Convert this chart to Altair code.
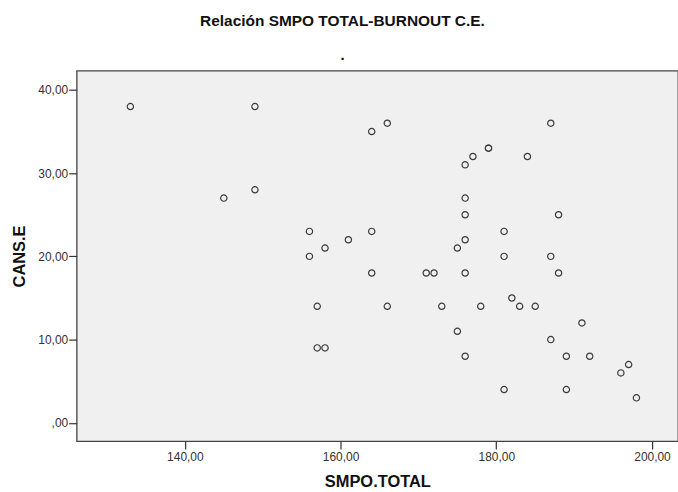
import altair as alt
import pandas as pd

smpo_total = [133, 149, 145, 149, 156, 156, 158, 161, 157, 157, 158,
              164, 166, 164, 164, 166, 171, 172, 173, 175, 175,
              176, 177, 176, 176, 176, 176, 176, 179, 179, 178,
              181, 181, 181, 182, 183, 184, 185, 187, 187, 187,
              188, 188, 189, 189, 191, 192, 196, 197, 198]
cans_e = [38, 38, 27, 28, 23, 20, 21, 22, 14, 9, 9,
          35, 36, 23, 18, 14, 18, 18, 14, 21, 11,
          31, 32, 27, 25, 22, 18, 8, 33, 33, 14,
          23, 20, 4, 15, 14, 32, 14, 36, 20, 10,
          25, 18, 8, 4, 12, 8, 6, 7, 3]

df = pd.DataFrame({"smpo": smpo_total, "cans": cans_e})

fmt = "datum.value == 0 ? ',00' : replace(format(datum.value, '.2f'), '.', ',')"
FONT = "Liberation Sans"

chart = alt.Chart(df).mark_point(
    shape="circle", filled=False, size=40, stroke="#3a3a3a", strokeWidth=1.2, opacity=1
).encode(
    x=alt.X("smpo:Q",
            scale=alt.Scale(domain=[126.1, 203.34], nice=False, zero=False),
            axis=alt.Axis(values=[140, 160, 180, 200], labelExpr=fmt, grid=False,
                          domain=False, tickSize=8, tickColor="#333", tickWidth=1.2,
                          labelFont=FONT, labelFontSize=12, labelColor="#333",
                          labelPadding=2, title="SMPO.TOTAL", titleFont=FONT,
                          titleFontSize=16.5, titleFontWeight="bold", titleColor="#111",
                          titlePadding=12)),
    y=alt.Y("cans:Q",
            scale=alt.Scale(domain=[-2.2, 42.3], nice=False, zero=False),
            axis=alt.Axis(values=[0, 10, 20, 30, 40], labelExpr=fmt, grid=False,
                          domain=False, tickSize=8, tickColor="#333", tickWidth=1.2,
                          labelFont=FONT, labelFontSize=12, labelColor="#333",
                          labelPadding=1, title="CANS.E", titleFont=FONT,
                          titleFontSize=16.5, titleFontWeight="bold", titleColor="#111",
                          titlePadding=10)),
).properties(
    width=604,
    height=372,
    background="white",
    autosize=alt.AutoSizeParams(type="none"),
    padding={"left": 77, "top": 70, "right": 0, "bottom": 50},
    title=alt.TitleParams(
        text="Relación SMPO TOTAL-BURNOUT C.E.",
        subtitle=".",
        font=FONT, fontSize=15.5, fontWeight="bold", color="#111",
        subtitleFont=FONT, subtitleFontSize=15, subtitleFontWeight="bold",
        subtitleColor="#111", subtitlePadding=18,
        anchor="middle", frame="group", dx=-35, offset=8,
    ),
).configure_view(
    fill="#f0f0f0", stroke="#444", strokeWidth=1.3
)

chart.save("out.html", embed_options={"renderer": "svg", "actions": False})
